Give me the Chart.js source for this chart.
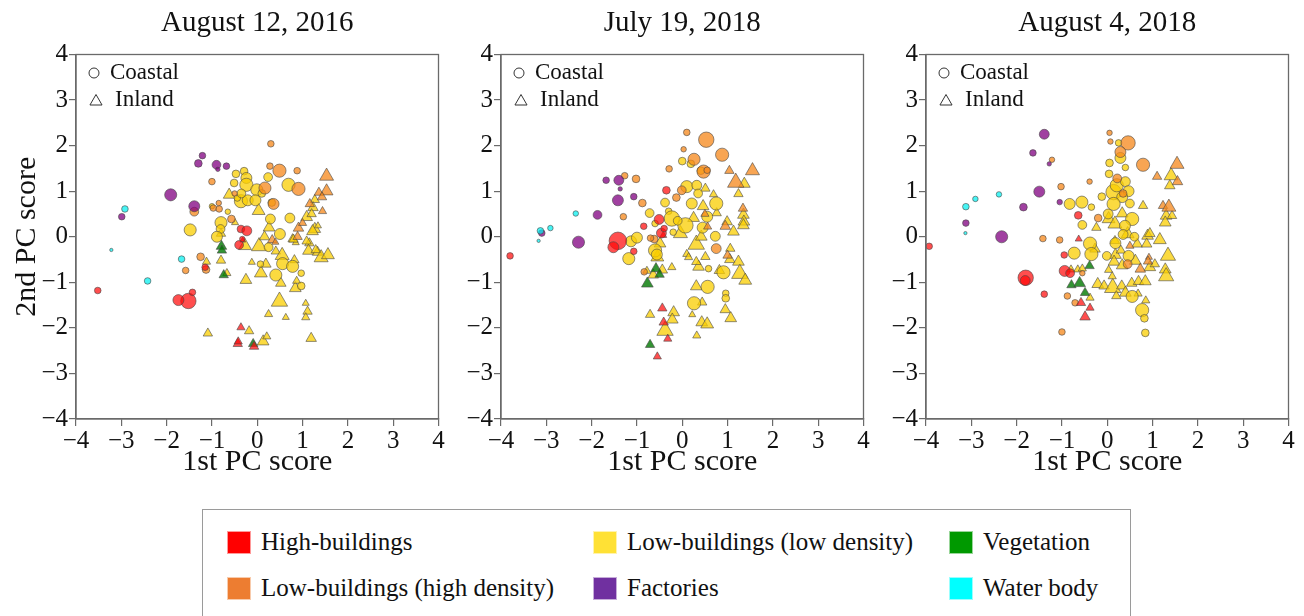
<!DOCTYPE html>
<html>
<head>
<meta charset="utf-8">
<script src="https://cdn.jsdelivr.net/npm/chart.js@4.4.1/dist/chart.umd.min.js"></script>
<style>
  html, body { margin: 0; padding: 0; background: #fff; overflow: hidden; }
  #page { position: relative; width: 1304px; height: 616px; overflow: hidden; }
  canvas.panel { position: absolute; top: 0; }
  #legend {
    position: absolute; left: 202px; top: 509px; width: 929px; height: 130px;
    border: 1px solid #9a9a9a; box-sizing: border-box;
    font-family: "Liberation Serif", "Times New Roman", serif; font-size: 25px; color: #111;
  }
  .item { position: absolute; height: 24px; display: flex; align-items: center; white-space: nowrap; }
  .swatch { width: 24px; height: 23px; margin-right: 10px; box-sizing: border-box; border: 1px solid rgba(255,255,255,0.6); }
</style>
</head>
<body>
<div id="page">
  <canvas id="p1" class="panel" width="514" height="490" style="left:0px"></canvas>
  <canvas id="p2" class="panel" width="514" height="490" style="left:425px"></canvas>
  <canvas id="p3" class="panel" width="514" height="490" style="left:850px"></canvas>
  <div id="legend"></div>
</div>
<script>
// ---- labels ----
const panelTitles = ['August 12, 2016', 'July 19, 2018', 'August 4, 2018'];
const categoryNames = ['High-buildings', 'Low-buildings (high density)', 'Low-buildings (low density)',
                       'Factories', 'Vegetation', 'Water body'];
const siteNames = ['Coastal', 'Inland'];
const tickValues = [-4, -3, -2, -1, 0, 1, 2, 3, 4];

// ---- PC scores: [1st PC, 2nd PC, bubble size] ----
// August 12, 2016
const aug2016HighCoastal = [[-3.52,-1.18,3],[-1.52,-1.41,7],[-1.74,-1.39,5],[-1.43,-1.22,3],[-1.15,-0.67,3],
  [-0.36,0.17,3.5],[-0.23,0.13,4.5],[-0.40,-0.18,4],[-0.33,-0.05,2.5]];
const aug2016HighInland = [[-0.36,-1.99,3.5],[-0.43,-2.35,4],[-0.42,-2.30,3.5],[-0.07,-2.41,4],[-0.32,-0.08,2.5]];
const aug2016DenseCoastal = [[0.30,2.04,3],[0.49,1.45,6],[0.88,1.45,3],[0.28,1.55,3],[-1.0,1.21,3],[0.17,1.07,5.5],
  [0.91,1.05,6],[0.36,0.72,5],[-0.97,0.63,3],[-0.84,0.61,3],[-1.39,0.55,4],[-0.85,0.74,2.5],[-0.57,0.39,3.5],
  [-1.25,-0.44,3.5],[-1.58,-0.74,3],[-1.13,-0.72,3.5],[-0.5,0.95,2.5]];
const aug2016DenseInland = [[1.53,1.33,6],[1.53,1.0,5.5],[1.36,0.97,4],[1.43,0.87,4],[1.16,0.72,4],[1.44,0.56,3.5],
  [0.91,0.19,4.5],[0.89,0.0,4],[0.33,-0.07,4],[0.40,-0.12,3],[1.0,0.3,3.5]];
const aug2016SparseCoastal = [[-0.29,1.44,3.5],[-0.47,1.38,3.5],[-0.24,1.29,5],[-0.51,1.18,3.5],[-0.24,1.14,6],
  [-0.01,1.03,5.5],[0.24,1.31,4],[0.69,1.14,6],[-0.36,0.78,6],[-0.21,0.80,5],[-0.04,0.80,5],[-0.44,0.85,3],
  [0.32,0.75,3.5],[-1.0,0.67,2.5],[-0.80,0.31,5.5],[-0.81,0.17,4],[-0.89,0.0,5],[-1.48,0.15,5.5],[0.29,0.39,4.5],
  [0.72,0.41,4.5],[0.50,0.06,5],[0.25,-0.23,4],[0.07,-0.60,3],[0.56,-0.59,5.5],[0.78,-0.65,5.5],[0.41,-0.84,5.5],
  [0.97,-0.80,3],[0.97,-1.08,3.5],[-0.65,0.55,2.5],[0.1,0.95,3.5],[-0.35,0.95,4]];
const aug2016SparseInland = [[-0.62,0.92,5],[0.03,0.57,5.5],[-0.49,0.31,3],[-0.80,0.07,4],[-0.27,-0.20,5.5],
  [0.26,0.20,5],[0.04,-0.21,6.5],[0.16,0.0,4.5],[0.41,-0.32,4],[0.55,-0.41,6],[-0.12,-0.56,3],[0.19,-0.60,4.5],
  [0.08,-0.80,5.5],[-0.25,-0.95,5],[0.52,-1.02,4.5],[0.84,-1.13,5],[0.87,-0.97,3.5],[0.82,-0.51,4],[0.49,-1.42,7],
  [1.07,-1.46,3],[1.11,-1.64,4],[1.07,-1.77,3.5],[0.63,-1.77,3],[0.25,-1.70,3.5],[-1.09,-2.12,4],[-0.18,-2.07,4],
  [0.13,-2.30,5],[0.21,-2.19,3.5],[1.19,-2.23,4.5],[-0.80,-0.52,4],[-1.12,-0.55,3.5],[-0.67,-0.80,3.5],
  [1.27,0.81,4],[1.23,0.64,4.5],[1.09,0.43,5],[1.20,0.5,4],[1.27,0.17,5],[0.78,-0.05,4],[0.85,-0.13,3],
  [1.15,-0.14,4],[1.13,-0.31,5],[1.33,-0.34,4.5],[1.41,-0.46,6],[1.56,-0.40,5.5],[1.22,0.12,5],[1.34,0.24,3],
  [1.09,-0.10,4],[0.80,-0.06,4],[1.29,-0.29,4]];
const aug2016FactoryCoastal = [[-1.21,1.78,3],[-1.30,1.61,3.5],[-0.90,1.58,4],[-0.68,1.55,3],[-0.87,1.48,2],
  [-1.91,0.92,5.5],[-1.39,0.67,5],[-2.99,0.44,3]];
const aug2016FactoryInland = [];
const aug2016GreenCoastal = [];
const aug2016GreenInland = [[-0.79,-0.21,4.5],[-0.78,-0.30,4],[-0.74,-0.84,4],[-0.09,-2.35,4]];
const aug2016WaterCoastal = [[-2.92,0.61,3],[-3.22,-0.29,1.5],[-1.67,-0.49,3],[-2.42,-0.97,3]];
const aug2016WaterInland = [];

// July 19, 2018
const jul2018HighCoastal = [[-0.35,1.02,3.5],[-0.51,0.38,4.5],[-0.46,0.08,4.5],[-0.85,0.23,3],[-1.42,-0.09,8],
  [-1.52,-0.23,5],[-1.07,-0.32,3],[-3.80,-0.42,3],[-0.40,0.18,3]];
const jul2018HighInland = [[-0.44,-1.57,4],[-0.41,-1.88,4],[-0.32,-2.24,3.5],[-0.55,-2.63,3.5],[-0.42,0.03,3]];
const jul2018DenseCoastal = [[0.10,2.29,3],[0.53,2.13,7],[0.88,1.80,6],[0.03,1.92,2.5],[0.26,1.70,5.5],[0.47,1.43,6],
  [0.55,1.46,3],[-0.29,1.49,3],[-1.27,1.34,3],[-1.02,1.27,3.5],[-0.88,0.74,3.5],[-1.30,0.44,3],[-0.01,1.02,4],
  [-0.13,0.86,3.5],[0.75,-0.26,4.5],[-0.84,-0.77,3],[-0.62,-0.05,3.5],[-0.70,-0.03,3]];
const jul2018DenseInland = [[1.04,1.45,4],[1.55,1.45,6],[1.18,1.19,7],[0.56,0.22,3.5],[0.95,0.23,4.5],[1.34,0.62,4],
  [1.0,-0.41,4],[0.5,0.5,3.5]];
const jul2018SparseCoastal = [[0.0,1.66,3.5],[0.19,1.60,3.5],[0.41,1.45,3.5],[-0.72,0.52,4],[-0.38,0.75,4],
  [-0.30,0.56,3],[-0.60,0.29,3],[-1.13,-0.10,5],[-1.0,-0.02,5],[-1.18,-0.48,5.5],[-0.60,-0.30,6],[-0.56,-0.39,5],
  [-0.23,0.40,7],[0.07,0.25,7],[0.10,1.10,5.5],[0.32,1.13,4.5],[0.21,0.73,5],[0.75,0.73,6],[0.55,0.44,5],
  [0.45,0.20,5],[0.73,0.01,4.5],[0.91,-0.78,6],[0.56,-1.10,6],[0.26,-1.46,6],[0.96,-1.24,3],[0.96,-1.35,3.5],
  [0.58,-0.70,3],[-0.1,0.35,4],[0.35,0.95,4],[-0.2,0.1,3]];
const jul2018SparseInland = [[1.37,1.16,5],[1.24,0.94,4],[-0.04,0.07,6],[0.31,-0.17,7],[0.42,0.0,5],[0.51,1.06,4],
  [0.69,0.93,3.5],[0.76,0.52,4],[0.46,0.67,5],[0.25,0.41,5],[0.99,0.33,4.5],[1.13,0.11,5],[1.35,0.48,5],
  [1.36,0.33,5],[1.35,0.25,5],[1.06,-0.26,4],[1.05,-0.5,4.5],[1.24,-0.55,5],[1.27,-0.81,7],[1.39,-0.96,5.5],
  [0.82,-0.74,4.5],[0.51,-0.44,4],[0.36,-0.66,5],[0.10,-0.38,3.5],[0.14,-0.45,3.5],[0.31,-0.55,4],[0.31,-1.09,5],
  [0.44,-1.44,4],[0.22,-1.71,3],[0.43,-1.88,5],[0.55,-1.92,5.5],[0.32,-2.17,3.5],[0.95,-1.60,4.5],[1.07,-1.79,5],
  [-0.71,-1.71,4],[-0.19,-1.66,5],[-0.22,-1.82,5],[-0.38,-2.06,7],[-0.78,-0.75,3.5],[-0.64,-0.84,4.5],
  [-0.44,-0.73,4.5],[-0.23,-0.67,3.5],[-0.49,-0.15,5],[-0.55,-0.45,5.5]];
const jul2018FactoryCoastal = [[-1.68,1.24,3],[-1.40,1.24,4.5],[-1.37,1.05,2],[-1.42,0.80,5],[-1.07,0.88,3],
  [-1.87,0.48,4],[-3.10,0.08,3],[-2.29,-0.12,5.5]];
const jul2018FactoryInland = [];
const jul2018GreenCoastal = [];
const jul2018GreenInland = [[-0.71,-2.37,4],[-0.77,-1.03,5],[-0.58,-0.70,4.5],[-0.50,-0.83,4]];
const jul2018WaterCoastal = [[-3.13,0.13,3],[-2.91,0.19,2.5],[-2.35,0.51,2.5],[-3.17,-0.09,1.5]];
const jul2018WaterInland = [];

// August 4, 2018
const aug2018HighCoastal = [[-0.64,0.47,3.5],[-0.95,-0.40,3],[-0.94,-0.75,5],[-0.82,-0.80,4],[-1.80,-0.90,7],
  [-1.81,-0.96,4.5],[-1.39,-1.26,3],[-3.93,-0.21,3]];
const aug2018HighInland = [[-0.63,-0.05,3],[-0.58,-1.45,4],[-0.38,-1.56,3.5],[-0.49,-1.76,4.5]];
const aug2018DenseCoastal = [[-1.22,1.69,2.5],[-1.02,1.10,3],[-0.39,1.21,2.5],[0.05,2.28,2.5],[0.07,2.09,2.5],
  [0.46,2.06,6.5],[0.29,1.86,5],[0.79,1.58,6],[0.22,1.28,4],[-0.20,0.41,3.5],[-1.05,-0.07,3],[-1.42,-0.04,3],
  [-0.88,-1.30,3],[-0.71,-1.45,3],[-1.0,-2.09,3],[0.45,-0.6,4],[0.35,0.95,3.5],[-0.55,-0.8,2.5]];
const aug2018DenseInland = [[1.23,0.68,4],[1.36,0.65,6],[1.10,1.32,4],[1.54,1.59,6],[1.55,1.21,4.5],[0.92,-0.45,3],
  [0.73,-0.71,4.5],[0.90,-0.54,4],[0.5,-0.2,3.5]];
const aug2018SparseCoastal = [[0.25,2.06,3],[0.29,1.73,5],[0.05,1.62,3.5],[0.40,1.52,3],[0.04,1.38,3.5],
  [0.14,0.98,7],[0.21,1.13,6],[0.40,1.21,4.5],[0.47,1.0,5],[0.33,0.87,5],[0.50,0.73,4],[0.14,0.72,6],
  [0.02,0.50,4.5],[-0.12,0.88,3.5],[0.55,0.39,6],[0.39,0.24,5],[0.35,0.05,4.5],[-0.83,0.72,5],[-0.56,0.76,5.5],
  [-0.35,0.65,3],[-0.55,0.26,4],[-0.38,-0.15,6],[-0.35,-0.38,6],[-0.73,-0.36,5.5],[-0.01,-0.42,4],[0.18,-0.14,5],
  [0.47,-0.42,5],[0.55,-1.31,5.5],[0.77,-1.61,6],[0.82,-1.79,3.5],[0.84,-2.11,3.5],[0.6,0.0,4]];
const aug2018SparseInland = [[-0.24,0.20,4],[0.03,0.39,5.5],[0.17,0.28,6],[0.33,0.51,5],[0.79,0.68,4],[1.30,0.46,5],
  [1.28,0.31,5],[1.43,0.46,4],[1.41,1.34,6],[1.38,1.12,4.5],[-0.27,-0.27,4.5],[-0.80,-0.72,3.5],[-0.65,-0.72,3.5],
  [-0.55,-0.70,3.5],[-0.38,-1.34,3.5],[0.17,-0.09,4],[0.18,-0.40,5],[0.45,0.06,5.5],[0.66,-0.16,4.5],
  [0.89,0.02,5],[0.94,0.07,4.5],[1.16,-0.07,5.5],[0.87,-0.16,4.5],[0.15,-0.55,5],[0.33,-0.63,5],[0.62,-0.53,5],
  [1.34,-0.42,6.5],[1.28,-0.72,5],[1.30,-0.87,6.5],[0.94,-0.67,5],[1.05,-0.6,4],[0.03,-0.73,3.5],[-0.21,-1.04,5],
  [-0.07,-1.08,4.5],[0.12,-1.12,7],[0.32,-1.08,4.5],[0.40,-1.23,5],[0.54,-1.02,4.5],[0.69,-0.98,4.5],
  [0.84,-0.98,5],[0.11,-0.87,3.5],[0.2,-1.3,4],[0.68,-1.25,3.5],[0.85,-1.4,3.5],[0.3,-0.3,4]];
const aug2018FactoryCoastal = [[-1.39,2.25,4.5],[-1.64,1.84,3],[-1.28,1.60,2],[-1.50,0.99,5],[-1.85,0.65,3.5],
  [-1.05,0.76,2.5],[-3.12,0.30,3],[-2.33,0.0,5.5]];
const aug2018FactoryInland = [];
const aug2018GreenCoastal = [];
const aug2018GreenInland = [[-0.39,-0.64,4],[-0.79,-1.06,4],[-0.61,-1.02,5],[-0.49,-1.23,4]];
const aug2018WaterCoastal = [[-3.12,0.66,3],[-2.91,0.83,2.5],[-2.39,0.93,2.5],[-3.13,0.08,1.5]];
const aug2018WaterInland = [];

// ---- styling ----
const SERIF = '"Liberation Serif", "Times New Roman", serif';
const markerFill = ['rgba(255,10,10,0.72)', 'rgba(245,135,25,0.75)', 'rgba(250,205,0,0.75)',
                    'rgba(128,0,128,0.75)', 'rgba(0,120,0,0.8)', 'rgba(0,240,240,0.72)'];
const swatchFill = ['#ff0000', '#ed7d31', '#ffe135', '#7030a0', '#009900', '#00ffff'];
// pixel radius per unit of bubble size; a triangle of circumradius r looks smaller
// than a circle of radius r, so it is enlarged to the same bounding box
const shapeScale = [1.1, 1.35];

// per panel: category order matches categoryNames, each [coastal, inland]
const panelSeries = [
  [[aug2016HighCoastal, aug2016HighInland], [aug2016DenseCoastal, aug2016DenseInland],
   [aug2016SparseCoastal, aug2016SparseInland], [aug2016FactoryCoastal, aug2016FactoryInland],
   [aug2016GreenCoastal, aug2016GreenInland], [aug2016WaterCoastal, aug2016WaterInland]],
  [[jul2018HighCoastal, jul2018HighInland], [jul2018DenseCoastal, jul2018DenseInland],
   [jul2018SparseCoastal, jul2018SparseInland], [jul2018FactoryCoastal, jul2018FactoryInland],
   [jul2018GreenCoastal, jul2018GreenInland], [jul2018WaterCoastal, jul2018WaterInland]],
  [[aug2018HighCoastal, aug2018HighInland], [aug2018DenseCoastal, aug2018DenseInland],
   [aug2018SparseCoastal, aug2018SparseInland], [aug2018FactoryCoastal, aug2018FactoryInland],
   [aug2018GreenCoastal, aug2018GreenInland], [aug2018WaterCoastal, aug2018WaterInland]]
];

// draw order: first dataset ends up on top
const drawOrder = [0, 4, 5, 3, 1, 2];

function buildDatasets(series) {
  const sets = [];
  drawOrder.forEach(ci => {
    [0, 1].forEach(si => {
      const pts = series[ci][si];
      if (!pts.length) return;
      sets.push({
        label: categoryNames[ci] + ' / ' + siteNames[si],
        data: pts.map(p => ({ x: p[0], y: p[1], r: p[2] * shapeScale[si] })),
        pointStyle: si === 0 ? 'circle' : 'triangle',
        backgroundColor: markerFill[ci],
        borderColor: 'rgba(70,70,70,0.75)',
        borderWidth: 0.8,
        hoverRadius: 0
      });
    });
  });
  return sets;
}

// panel title, frame around the plot area and the Coastal / Inland key
const framePlugin = {
  id: 'frameKey',
  afterDraw(chart) {
    const { ctx, chartArea: a } = chart;
    ctx.save();
    ctx.fillStyle = '#111';
    ctx.font = '29px ' + SERIF;
    ctx.textAlign = 'center';
    ctx.textBaseline = 'middle';
    ctx.fillText(chart.options.plugins.frameKey.title, (a.left + a.right) / 2, 23);

    ctx.strokeStyle = '#6a6a6a';
    ctx.lineWidth = 1.3;
    ctx.strokeRect(a.left, a.top, a.right - a.left, a.bottom - a.top);

    ctx.strokeStyle = '#333';
    ctx.fillStyle = '#fff';
    ctx.lineWidth = 1;
    Chart.helpers.drawPoint(ctx, { pointStyle: 'circle', radius: 5, borderWidth: 1 }, a.left + 18, a.top + 18.5);
    Chart.helpers.drawPoint(ctx, { pointStyle: 'triangle', radius: 7, borderWidth: 1 }, a.left + 20, a.top + 47);

    ctx.fillStyle = '#111';
    ctx.font = '23px ' + SERIF;
    ctx.textBaseline = 'middle';
    ctx.textAlign = 'left';
    ctx.fillText(siteNames[0], a.left + 34, a.top + 18);
    ctx.fillText(siteNames[1], a.left + 39, a.top + 45);
    ctx.restore();
  }
};

const fmtTick = v => (v < 0 ? '\u2212' + Math.abs(v) : String(v));

function axisOptions(pos, titleText, showTitle, fit) {
  return {
    type: 'linear', position: pos,
    min: tickValues[0], max: tickValues[tickValues.length - 1],
    ticks: {
      stepSize: 1, color: '#111', padding: pos === 'bottom' ? 0 : 1, callback: fmtTick,
      font: { family: SERIF, size: 25, weight: 'normal' }
    },
    grid: { display: true, drawOnChartArea: false, drawTicks: true, tickLength: 7, color: '#6a6a6a', lineWidth: 1.2 },
    border: { display: true, color: '#6a6a6a', width: 1.3 },
    title: {
      display: showTitle, text: titleText, color: '#111',
      font: { family: SERIF, size: 30, weight: 'normal' },
      padding: pos === 'bottom' ? { top: 0, bottom: 10 } : { top: 9, bottom: 0 }
    },
    afterFit: fit
  };
}

function makePanel(id, idx) {
  return new Chart(document.getElementById(id), {
    type: 'bubble',
    data: { datasets: buildDatasets(panelSeries[idx]) },
    plugins: [framePlugin],
    options: {
      responsive: false,
      animation: false,
      events: [],
      layout: { padding: { left: 0, right: 75.5, top: 54.5, bottom: 0 } },
      plugins: {
        legend: { display: false },
        tooltip: { enabled: false },
        title: { display: false },
        frameKey: { title: panelTitles[idx] }
      },
      scales: {
        x: axisOptions('bottom', '1st PC score', true, s => { s.height = 71; }),
        y: axisOptions('left', '2nd PC score', idx === 0, s => { s.width = 76; })
      }
    }
  });
}

makePanel('p1', 0);
makePanel('p2', 1);
makePanel('p3', 2);

// shared category legend
const legendEl = document.getElementById('legend');
const legendSlots = [[24, 20], [24, 66], [390, 20], [390, 66], [746, 20], [746, 66]];
categoryNames.forEach((name, ci) => {
  const it = document.createElement('div');
  it.className = 'item';
  it.style.left = legendSlots[ci][0] + 'px';
  it.style.top = legendSlots[ci][1] + 'px';
  const sw = document.createElement('span');
  sw.className = 'swatch';
  sw.style.background = swatchFill[ci];
  const tx = document.createElement('span');
  tx.textContent = name;
  it.appendChild(sw);
  it.appendChild(tx);
  legendEl.appendChild(it);
});
</script>
</body>
</html>
